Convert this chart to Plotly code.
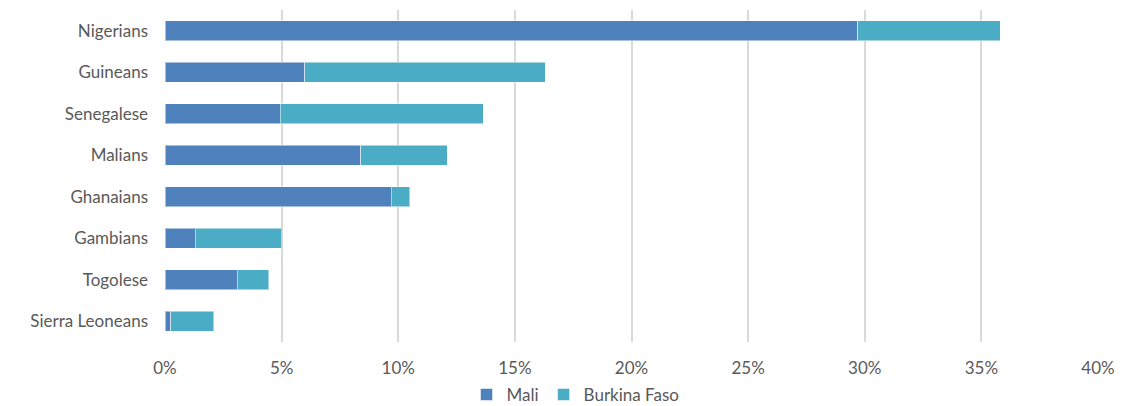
import plotly.graph_objects as go

# nationality groups, top to bottom
groups = ["Nigerians", "Guineans", "Senegalese", "Malians",
          "Ghanaians", "Gambians", "Togolese", "Sierra Leoneans"]

# share of migrants (%) by country of interview
mali = [29.7, 6.0, 4.95, 8.4, 9.7, 1.3, 3.1, 0.25]
burkina_faso = [6.1, 10.3, 8.7, 3.7, 0.8, 3.7, 1.35, 1.85]

x_ticks = [0, 5, 10, 15, 20, 25, 30, 35, 40]

font_color = "#595959"
grid_color = "#D9D9D9"

fig = go.Figure()

fig.add_trace(go.Bar(
    y=groups,
    x=mali,
    name="Mali",
    orientation="h",
    marker=dict(color="#4F81BD", line=dict(width=1, color="rgba(255,255,255,0.5)")),
))

fig.add_trace(go.Bar(
    y=groups,
    x=burkina_faso,
    name="Burkina Faso",
    orientation="h",
    marker=dict(color="#4BACC6", line=dict(width=1, color="rgba(255,255,255,0.5)")),
))

# note: the page body adds an 8px offset, margins compensate for it
fig.update_layout(
    barmode="stack",
    bargap=0.52,
    width=1134,
    height=406,
    plot_bgcolor="white",
    paper_bgcolor="white",
    font=dict(family="Lato, 'Open Sans', sans-serif", size=17, color=font_color),
    margin=dict(l=157, r=44, t=2, b=71),
    xaxis=dict(
        range=[0, 40],
        tickvals=x_ticks,
        ticktext=[f"{v}%" for v in x_ticks],
        showgrid=True,
        gridcolor=grid_color,
        gridwidth=2,
        zeroline=False,
        showline=False,
        ticks="",
        ticklabelstandoff=14,
    ),
    yaxis=dict(
        categoryorder="array",
        categoryarray=groups[::-1],
        showgrid=False,
        ticks="",
        ticklabelstandoff=16,
    ),
    legend=dict(
        orientation="h",
        x=0.44,
        xanchor="center",
        y=-0.156,
        yanchor="middle",
        itemwidth=30,
        font=dict(size=17, color=font_color),
        traceorder="normal",
    ),
)

fig.write_html("out.html")
